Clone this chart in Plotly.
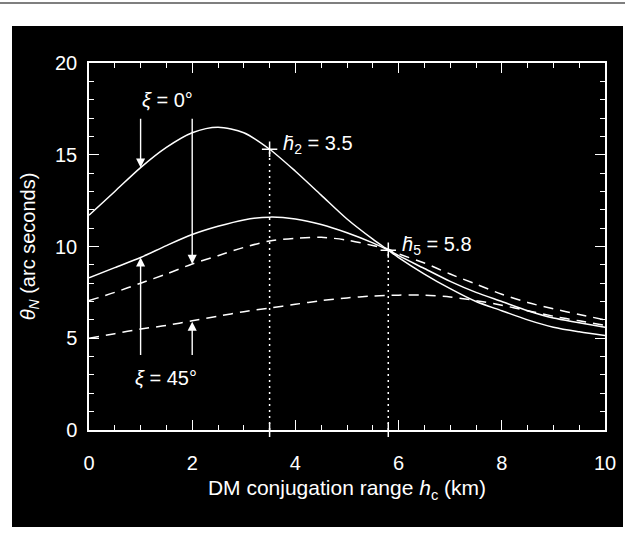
import plotly.graph_objects as go

# ---- data ----
x = [0, 0.5, 1, 1.5, 2, 2.5, 3, 3.5, 4, 4.5, 5, 5.5, 5.8, 6, 6.5, 7, 7.5, 8, 8.5, 9, 9.5, 10]
solid_xi0 = [11.7, 13.0, 14.3, 15.4, 16.2, 16.5, 16.2, 15.3, 14.1, 12.8, 11.5, 10.4, 9.8, 9.4, 8.5, 7.7, 7.0, 6.5, 6.0, 5.6, 5.35, 5.15]
solid_xi45 = [8.3, 8.85, 9.4, 10.05, 10.65, 11.1, 11.45, 11.6, 11.5, 11.2, 10.75, 10.2, 9.8, 9.5, 8.8, 8.1, 7.5, 7.0, 6.5, 6.1, 5.85, 5.6]
dash_xi0 = [7.05, 7.5, 8.0, 8.5, 9.05, 9.5, 9.95, 10.3, 10.45, 10.5, 10.35, 10.05, 9.85, 9.6, 9.1, 8.5, 7.95, 7.4, 6.95, 6.6, 6.3, 6.0]
dash_xi45 = [5.0, 5.25, 5.5, 5.7, 5.95, 6.2, 6.45, 6.65, 6.85, 7.05, 7.2, 7.3, 7.33, 7.35, 7.35, 7.25, 7.05, 6.8, 6.5, 6.2, 5.95, 5.7]

h_marks = [3.5, 5.8]
h_vals = [15.3, 9.8]
h_labels = ["<i>h\u0304</i><sub>2</sub> = 3.5", "<i>h\u0304</i><sub>5</sub> = 5.8"]

x_ticks = [0, 2, 4, 6, 8, 10]
y_ticks = [0, 5, 10, 15, 20]

FONT = "Liberation Sans, Arial, Helvetica, sans-serif"
W = "white"

fig = go.Figure()
for ys, dash in [(solid_xi0, "solid"), (solid_xi45, "solid"),
                 (dash_xi0, "10px,7px"), (dash_xi45, "10px,7px")]:
    fig.add_trace(go.Scatter(x=x, y=ys, mode="lines",
                             line=dict(color=W, width=1.5, dash=dash,
                                       shape="spline", smoothing=0.8),
                             hoverinfo="skip", showlegend=False))

for hx, hy in zip(h_marks, h_vals):
    fig.add_trace(go.Scatter(x=[hx, hx], y=[0, hy], mode="lines",
                             line=dict(color=W, width=1.5, dash="2px,4px"),
                             showlegend=False, hoverinfo="skip"))
fig.add_trace(go.Scatter(x=h_marks, y=h_vals, mode="markers",
                         marker=dict(symbol="cross-thin", size=11,
                                     line=dict(color=W, width=1.5)),
                         showlegend=False, hoverinfo="skip", cliponaxis=False))
fig.add_trace(go.Scatter(x=h_marks, y=[0, 0], mode="markers",
                         marker=dict(symbol="line-ns", size=10,
                                     line=dict(color=W, width=1.5)),
                         showlegend=False, hoverinfo="skip", cliponaxis=False))

for lbl, hx, hy in zip(h_labels, h_marks, h_vals):
    fig.add_annotation(x=hx + 0.22, y=hy + 0.25, text=lbl, showarrow=False,
                       xanchor="left", yanchor="middle",
                       font=dict(family=FONT, size=20, color=W))

# xi labels and arrows
fig.add_annotation(x=1.53, y=18.0, text="<i>ξ</i> = 0°", showarrow=False,
                   font=dict(family=FONT, size=20, color=W))
fig.add_annotation(x=1.5, y=2.85, text="<i>ξ</i> = 45°", showarrow=False,
                   font=dict(family=FONT, size=20, color=W))

arrows = [(1, 14.3, 17.05), (2, 9.05, 17.05), (1, 9.4, 4.0), (2, 5.9, 4.0)]
for ax_, tip, tail in arrows:
    fig.add_annotation(x=ax_, y=tip, ax=ax_, ay=tail, axref="x", ayref="y",
                       xref="x", yref="y", text="", showarrow=True,
                       arrowhead=2, arrowsize=1.3, arrowwidth=1.4, arrowcolor=W)

# background shapes
fig.add_shape(type="rect", xref="paper", yref="paper",
              x0=(12 - 89) / 516, x1=(623 - 89) / 516,
              y0=(430 - 527) / 367, y1=(430 - 26) / 367,
              fillcolor="black", line=dict(width=0), layer="below")
fig.add_shape(type="line", xref="paper", yref="paper",
              x0=-89 / 516, x1=(625 - 89) / 516,
              y0=(430 - 3) / 367, y1=(430 - 3) / 367,
              line=dict(color="#555555", width=1.5), layer="below")

axis_common = dict(showgrid=False, zeroline=False, showline=True, linecolor=W,
                   linewidth=1.5, mirror="ticks", ticks="inside", tickcolor=W,
                   tickwidth=1.2, ticklen=10, automargin=False,
                   tickfont=dict(family=FONT, size=20, color=W))

fig.update_xaxes(range=[0, 10], tickvals=x_ticks, ticktext=[str(v) for v in x_ticks],
                 minor=dict(ticks="inside", ticklen=5, tickcolor=W, tickwidth=1.2, dtick=0.5, tick0=0),
                 ticklabelstandoff=14,
                 title=dict(text="DM conjugation range <i>h</i><sub>c</sub> (km)",
                            font=dict(family=FONT, size=21, color=W), standoff=8),
                 **axis_common)
fig.update_yaxes(range=[0, 20], tickvals=y_ticks, ticktext=[str(v) for v in y_ticks],
                 minor=dict(ticks="inside", ticklen=5, tickcolor=W, tickwidth=1.2, dtick=1, tick0=0),
                 ticklabelstandoff=6,
                 title=dict(text="<i>θ</i><sub><i>N</i></sub> (arc seconds)",
                            font=dict(family=FONT, size=20, color=W), standoff=14),
                 **axis_common)

fig.update_layout(width=625, height=542, paper_bgcolor="white", plot_bgcolor="black",
                  margin=dict(l=89, r=20, t=63, b=112, pad=0),
                  showlegend=False)

fig.write_html("out.html", config={"displayModeBar": False},
               post_script="document.body.style.margin='0';document.body.style.padding='0';")
